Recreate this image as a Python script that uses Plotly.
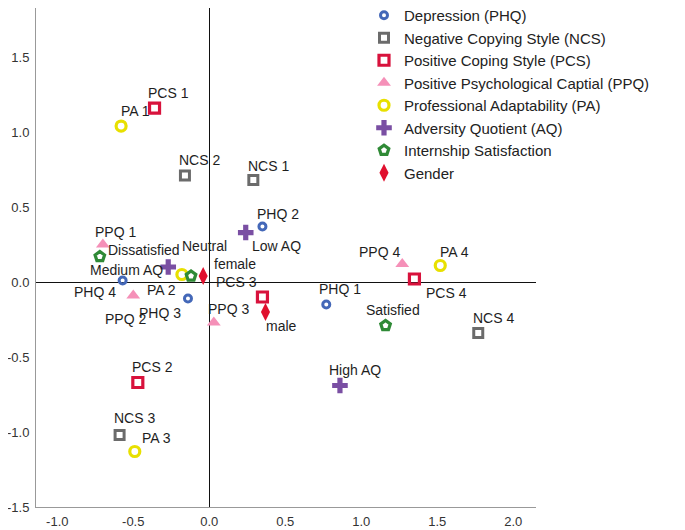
import plotly.graph_objects as go

# ---- data (dimension 1, dimension 2) ----
phq_labels = ["PHQ 1", "PHQ 2", "PHQ 3", "PHQ 4"]
phq_x = [0.77, 0.35, -0.14, -0.57]
phq_y = [-0.15, 0.37, -0.11, 0.01]

ncs_labels = ["NCS 1", "NCS 2", "NCS 3", "NCS 4"]
ncs_x = [0.29, -0.16, -0.59, 1.77]
ncs_y = [0.68, 0.71, -1.02, -0.34]

pcs_labels = ["PCS 1", "PCS 2", "PCS 3", "PCS 4"]
pcs_x = [-0.36, -0.47, 0.35, 1.35]
pcs_y = [1.16, -0.67, -0.10, 0.02]

ppq_labels = ["PPQ 1", "PPQ 2", "PPQ 3", "PPQ 4"]
ppq_x = [-0.70, -0.50, 0.03, 1.27]
ppq_y = [0.25, -0.09, -0.27, 0.12]

pa_labels = ["PA 1", "PA 2", "PA 3", "PA 4"]
pa_x = [-0.58, -0.18, -0.49, 1.52]
pa_y = [1.04, 0.05, -1.13, 0.11]

aq_labels = ["Low AQ", "Medium AQ", "High AQ"]
aq_x = [0.24, -0.27, 0.86]
aq_y = [0.33, 0.10, -0.69]

sat_labels = ["Dissatisfied", "Neutral", "Satisfied"]
sat_x = [-0.72, -0.12, 1.16]
sat_y = [0.17, 0.04, -0.29]

gen_labels = ["female", "male"]
gen_x = [-0.04, 0.37]
gen_y = [0.04, -0.20]

x_ticks = [-1.0, -0.5, 0.0, 0.5, 1.0, 1.5, 2.0]
y_ticks = [-1.5, -1.0, -0.5, 0.0, 0.5, 1.0, 1.5]

# label offsets in pixels (dx right, dy down)
offsets = {
    "PHQ 1": (14, -16), "PHQ 2": (16, -13), "PHQ 3": (-28, 14), "PHQ 4": (-28, 11),
    "NCS 1": (15, -14), "NCS 2": (15, -16), "NCS 3": (15, -17), "NCS 4": (15, -15),
    "PCS 1": (14, -15), "PCS 2": (15, -16), "PCS 3": (-26, -15), "PCS 4": (32, 14),
    "PPQ 1": (13, -13), "PPQ 2": (-8, 23), "PPQ 3": (15, -14), "PPQ 4": (-23, -12),
    "PA 1": (14, -15), "PA 2": (-20, 15), "PA 3": (22, -14), "PA 4": (14, -14),
    "Low AQ": (31, 13), "Medium AQ": (-42, 3), "High AQ": (15, -16),
    "Dissatisfied": (44, -7), "Neutral": (13, -30), "Satisfied": (7, -16),
    "female": (32, -12), "male": (16, 14),
}

series = [
    ("Depression (PHQ)", phq_labels, phq_x, phq_y,
     dict(symbol="circle-open", size=7, color="#4468b8", line=dict(width=3, color="#4468b8"))),
    ("Negative Copying Style (NCS)", ncs_labels, ncs_x, ncs_y,
     dict(symbol="square-open", size=9, color="#6b6b6b", line=dict(width=3, color="#6b6b6b"))),
    ("Positive Coping Style (PCS)", pcs_labels, pcs_x, pcs_y,
     dict(symbol="square-open", size=10, color="#d8123c", line=dict(width=3.2, color="#d8123c"))),
    ("Positive Psychological Captial (PPQ)", ppq_labels, ppq_x, ppq_y,
     dict(symbol="triangle-up", size=12, color="#f590b8", line=dict(width=0))),
    ("Professional Adaptability (PA)", pa_labels, pa_x, pa_y,
     dict(symbol="circle-open", size=10, color="#e8e000", line=dict(width=3.2, color="#e8e000"))),
    ("Adversity Quotient (AQ)", aq_labels, aq_x, aq_y,
     dict(symbol="cross", size=13, color="#7a4fa3", line=dict(width=0))),
    ("Internship Satisfaction", sat_labels, sat_x, sat_y,
     dict(symbol="pentagon-open", size=10, color="#2f8a36", line=dict(width=3.2, color="#2f8a36"))),
    ("Gender", gen_labels, gen_x, gen_y,
     dict(symbol="diamond-tall", size=13, color="#e0102e", line=dict(width=0))),
]

fig = go.Figure()
annotations = []
for name, labels, xs, ys, marker in series:
    fig.add_trace(go.Scatter(x=xs, y=ys, mode="markers", name=name, marker=marker,
                             hovertext=labels, hoverinfo="text"))
    for lab, xv, yv in zip(labels, xs, ys):
        dx, dy = offsets[lab]
        annotations.append(dict(x=xv, y=yv, text=lab, showarrow=False,
                                xshift=dx, yshift=-dy,
                                font=dict(size=14, color="#1e1e1e",
                                          family="Liberation Sans, Arial, sans-serif")))

# the page body adds an 8px offset, so margins are reduced accordingly
fig.update_layout(
    width=685, height=530,
    margin=dict(l=28, r=157, t=0, b=31, autoexpand=False),
    paper_bgcolor="white", plot_bgcolor="white",
    font=dict(family="Liberation Sans, Arial, sans-serif", color="#333333"),
    annotations=annotations,
    showlegend=True,
    legend=dict(x=0.656, y=1.018, xanchor="left", yanchor="top",
                bgcolor="rgba(0,0,0,0)", font=dict(size=15, color="#222222"),
                itemwidth=30, tracegroupgap=0),
)
fig.update_xaxes(range=[-1.14, 2.15], tickvals=x_ticks,
                 ticktext=[f"{v:.1f}" for v in x_ticks], automargin=False,
                 showgrid=False, zeroline=True, zerolinecolor="#111111", zerolinewidth=1,
                 showline=True, linecolor="#999999", linewidth=1, ticklabelstandoff=2,
                 tickfont=dict(size=13, color="#333333"), ticks="")
fig.update_yaxes(range=[-1.5, 1.827], tickvals=y_ticks,
                 ticktext=[f"{v:.1f}" for v in y_ticks], automargin=False,
                 showgrid=False, zeroline=True, zerolinecolor="#111111", zerolinewidth=1,
                 showline=True, linecolor="#999999", linewidth=1, ticklabelstandoff=3,
                 tickfont=dict(size=13, color="#333333"), ticks="")

fig.write_html("out.html")
